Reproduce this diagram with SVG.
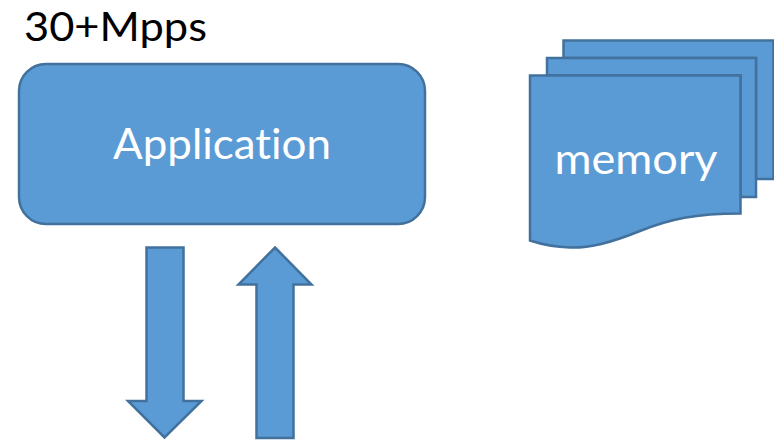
<svg xmlns="http://www.w3.org/2000/svg" width="774" height="440" viewBox="0 0 774 440">
<style>
.s{fill:#5b9bd5;stroke:#41719c;stroke-width:2.5;stroke-linejoin:miter}
.t{font-family:Lato,"Open Sans",sans-serif;fill:#fff;font-variant-ligatures:none}
</style>
<rect width="774" height="440" fill="#fff"/>
<text x="24" y="41" font-family="Lato,'Open Sans',sans-serif" font-size="40" textLength="183" lengthAdjust="spacingAndGlyphs" fill="#000">30+Mpps</text>
<g id="application">
<rect class="s" x="19" y="64" width="406" height="160" rx="27" ry="27"/>
<text class="t" x="222" y="159" font-size="43" text-anchor="middle" textLength="218" lengthAdjust="spacingAndGlyphs">Application</text>
</g>
<g id="memory">
<path class="s" d="M563.500 58V40.500H773.500V179H756V58Z"/>
<path class="s" d="M547 75.500V58H756V197H740.500V75.500Z"/>
<path class="s" d="M530 75.500H740.500V213.500C695 213.500 670 219 640 231C610 243 590 248 570 247.500C555 247 542 244.500 530 240.500Z"/>
<text class="t" x="636" y="174" font-size="43" text-anchor="middle" textLength="163" lengthAdjust="spacingAndGlyphs">memory</text>
</g>
<g id="connectors">
<path id="arrow-down" class="s" d="M146.500 247.500H183.500V401H201.500L164.500 437.500L128 401H146.500Z"/>
<path id="arrow-up" class="s" d="M275 247.500L311.500 284.500H293.500V438H256.500V284.500H238.500Z"/>
</g>
</svg>
